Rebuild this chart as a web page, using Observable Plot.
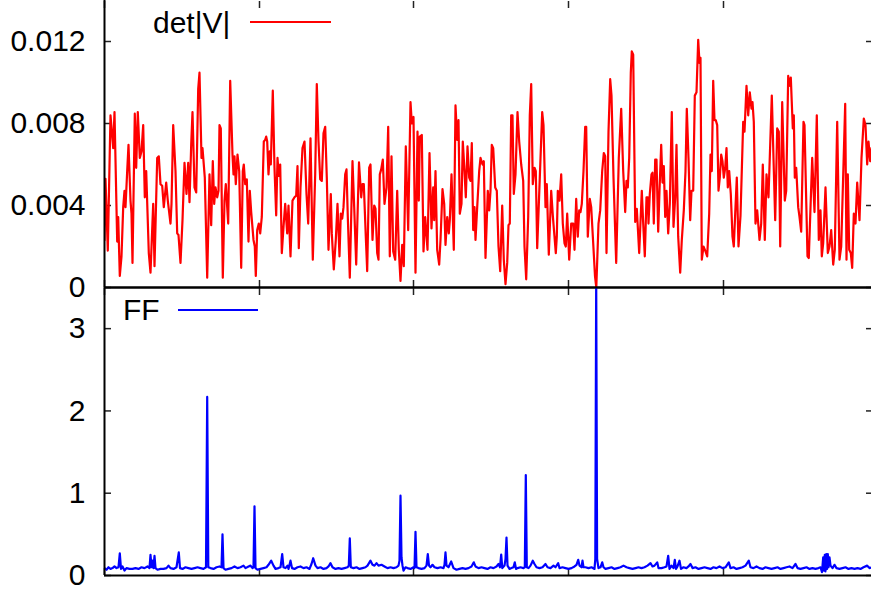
<!DOCTYPE html>
<html><head><meta charset="utf-8">
<script src="https://cdn.jsdelivr.net/npm/d3@7"></script>
<script src="https://cdn.jsdelivr.net/npm/@observablehq/plot@0.6"></script>
<style>
html,body{margin:0;padding:0;background:#fff;overflow:hidden;}
#wrap{position:relative;width:871px;height:592px;overflow:hidden;background:#fff;}
#wrap svg{position:absolute;left:0;overflow:visible;max-width:none !important;background:transparent !important;}
</style></head><body><div id="wrap"></div>
<script>
// det|V| series: [x position, value in units of 1e-3]
const detPoints = [
[0,2.3],[1,5.3],[3.3,1.8],[6,8.4],[8.7,6.8],[10,8.56],[12.7,2.24],[13.7,3.44],[15.3,0.56],[17,1.52],[18.7,3.92],[20,4.72],[21,3.92],[22.7,5.68],[24,6.96],[26,4.24],[27,3.6],[28,1.2],[30.3,8.48],[31.7,5.84],[33.3,8.56],[35.3,6.32],[37,6.64],[38.7,7.92],[40.3,4.4],[41.7,5.68],[44.3,1.68],[46,0.72],[48.7,4.08],[50,1.04],[52.7,6.32],[54.3,6.4],[56,5.04],[57.7,4.96],[59.3,3.92],[61.7,5.12],[63.3,4.24],[66,3.12],[67,4.08],[68.7,7.92],[71,5.68],[72.7,2.64],[74,2.56],[76,1.2],[78,3.28],[80,6.08],[82,4.56],[83.7,6.08],[85,4.16],[86.7,6.96],[88,8.56],[90,4.88],[91.7,4.64],[93.7,9.68],[95,10.48],[97,6.32],[98,6.8],[100.3,5.36],[102.7,0.48],[105,5.52],[106.7,3.04],[108.3,6.16],[109.7,4.08],[111,4.88],[112.7,4.4],[114,4.72],[115,7.92],[116.3,7.76],[118.3,0.48],[120,4.24],[121.3,5.04],[123.7,3.12],
[125.7,10.08],[128,6.48],[129,5.52],[130,6.4],[131.3,5.04],[133,6.48],[134.7,5.68],[136.7,0.96],[138.3,5.68],[139.3,6.0],[140.7,5.04],[142.3,5.28],[144,2.24],[145.3,4.72],[146.7,3.68],[149,2.32],[150.3,2.0],[151.3,0.56],[152.7,2.8],[154.3,3.12],[155.7,2.64],[157.3,3.44],[159.3,7.12],[160.7,7.2],[161.7,7.36],[162.7,7.12],[164,5.52],[165.3,6.64],[166.3,6.0],[168.3,9.6],[170,5.84],[171.7,3.52],[173,6.32],[174.3,5.44],[175.7,6.0],[177.3,1.68],[179,2.96],[180.7,4.08],[182.7,2.64],[184,4.0],[186,1.52],[188,4.24],[190,4.4],[191.7,4.48],[193,5.92],[194.3,1.92],[196,4.88],[198,6.8],[200,7.12],[202,4.56],[203.7,3.12],[206,7.28],[208.3,1.36],[210.7,5.52],[212.3,9.92],[214,7.12],[215.7,5.28],[217.3,5.2],[219,7.52],[220.7,7.84],[222.3,5.36],[224,1.84],[226.3,4.56],[227.3,2.64],[229.3,0.88],[231.3,2.32],[233,4.08],[235,1.52],[236.3,3.6],[237.7,3.36],[239,3.92],[240.7,5.52],[242,5.76],[243.3,3.44],[245.3,0.48],[248,6.16],[249.7,3.92],[251.7,1.12],
[254.5,6.1],[256.7,4.4],[258,5.04],[259.3,5.04],[261.3,2.48],[262.7,0.8],[264.7,5.84],[266,6.0],[268,2.32],[269.7,4.0],[271,3.84],[272.7,1.68],[274,1.36],[275.3,5.52],[276.7,5.76],[278.3,6.24],[280,4.08],[282,4.88],[283.7,7.84],[285.3,1.52],[287,6.4],[288.7,1.76],[290.7,1.36],[292.7,4.72],[294.3,1.84],[296,0.32],[297.7,2.08],[299.3,1.04],[301.3,6.88],[303.7,2.8],[306,9.04],[307.3,8.0],[309,8.32],[311,0.72],[313,7.6],[314.3,4.24],[315.3,7.36],[317.3,7.44],[319,1.76],[320.7,3.44],[323,1.84],[325,6.56],[327,2.88],[328.7,4.88],[329.7,3.28],[331,5.68],[332.7,1.84],[334.7,1.12],[336,2.32],[338,4.8],[339.7,4.08],[341,2.08],[342.7,3.44],[344.3,2.64],[345.3,3.28],[347,5.52],[349.3,1.84],[351,8.88],[352.7,7.2],[354,8.16],[355.3,3.6],[357,4.08],[358.3,7.12],[360,5.68],[361.3,4.4],[363,6.88],[364.7,5.36],[366,5.2],[367.3,7.04],[368.7,2.8],[370,3.92],[371,2.32],[372.7,3.92],[374.7,5.68],[376,6.32],[378,6.0],[379.3,6.16],[381,1.44],[383.3,4.72],
[384.7,3.76],[386,4.72],[387.3,6.96],[388.7,6.8],[390.7,4.88],[392.3,4.72],[394,2.0],[395.7,0.8],[397.7,4.0],[399.3,1.36],[401,0.16],[402.7,1.2],[404,3.04],[405.3,3.12],[406.7,8.4],[408,8.4],[409.3,4.56],[411,5.52],[413,8.56],[414.7,7.12],[416.7,6.0],[418.7,5.2],[420,2.0],[421.7,0.4],[423.7,3.44],[425.3,8.4],[426.7,9.92],[428.3,5.04],[430,5.84],[431.3,5.68],[432.7,1.92],[435.3,5.36],[437.7,8.56],[439,7.92],[441,3.92],[442.3,5.04],[444.3,1.6],[446.7,4.72],[448.3,3.52],[450,2.48],[451.3,1.68],[452.3,2.48],[453.3,4.72],[455,4.24],[456.7,5.52],[458.3,3.12],[460,2.16],[461.3,2.0],[462.7,3.6],[464.7,1.36],[466.7,3.12],[468.7,3.12],[470,1.84],[471.7,4.32],[473.3,2.48],[474.7,3.76],[476,3.68],[477.3,4.08],[479,5.68],[480.7,7.84],[481.7,7.84],[483.3,2.48],[485.3,4.32],[486.7,3.92],[488.7,2.16],[490.5,0.56],[491.8,0.0],[494,3.12],[495.7,3.76],[497.7,5.68],[499.3,6.56],[500.7,6.4],[502,1.68],[504,7.6],[505.7,10.16],[507,9.36],[509,5.36],[511.7,1.2],
[514.3,6.32],[516.7,8.72],[518.7,5.68],[520.7,3.68],[522,5.2],[523.3,4.88],[524.7,6.32],[526.3,10.48],[527.3,11.52],[528.7,11.36],[530.7,3.2],[532.3,3.84],[534.7,1.68],[537.3,4.72],[538.7,3.12],[540.3,1.52],[542,4.4],[543.3,4.4],[544,3.12],[545.3,4.56],[547,5.52],[548,5.6],[549.3,3.12],[550.7,6.24],[552,6.24],[553.7,2.72],[555,4.72],[556.7,6.96],[558,5.12],[559.3,5.92],[560.7,3.44],[562,4.72],[563.7,2.64],[565.3,4.08],[567.3,8.56],[569,2.96],[570.7,4.4],[572,6.96],[573.7,2.48],[575.7,0.72],[577.3,2.32],[579.3,3.76],[581,5.68],[582.3,8.72],[584,6.32],[585.7,3.28],[587,4.72],[588.7,4.72],[590.3,9.36],[592,9.52],[593.7,12.08],[595,10.96],[596,11.2],[597.3,1.36],[599,2.0],[601,1.76],[602.7,1.52],[604.7,3.6],[606,6.48],[607.3,5.68],[608.7,10.08],[610,8.16],[611.3,8.16],[612.7,7.92],[614,4.72],[615.3,5.36],[616.7,6.48],[618,6.16],[619.3,5.36],[620.7,5.84],[622,6.8],[623.3,4.88],[624.7,5.68],[626.3,4.56],[628,2.48],[629.3,2.0],[630.7,3.6],[632.3,5.36],[634,2.0],[636,3.5],
[638.7,8.08],[640,7.6],[642,9.84],[643.7,8.4],[645.3,9.52],[647,8.72],[648,9.04],[649.3,8.08],[651,3.12],[652.7,3.76],[655,2.32],[656.7,3.12],[658.3,6.0],[660.3,2.32],[662,5.52],[664,4.4],[667.3,9.36],[670.7,3.28],[672.7,7.76],[674.3,7.6],[675.7,2.0],[677.7,9.04],[680.3,4.24],[681.7,4.72],[683.7,10.32],[685,9.84],[686.3,10.24],[688.3,7.76],[689.3,8.4],[690.3,5.36],[691.7,5.84],[693.7,3.92],[695,3.44],[696.7,2.72],[699,8.08],[700,7.92],[703,1.52],[704.3,1.44],[707.7,6.32],[710,3.68],[712.3,8.4],[714.3,2.32],[716,3.76],[717.3,1.52],[718.7,2.16],[721,4.88],[723.3,1.68],[725,2.0],[726.7,2.8],[728.7,1.12],[730.3,1.84],[732.7,8.08],[735,1.36],[736.7,2.0],[740.7,8.96],[742,1.36],[743.3,5.52],[744.7,1.84],[746.3,1.68],[747.7,0.96],[749.3,3.6],[751,3.12],[752.7,5.12],[755,3.28],[757,6.32],[759.3,8.24],[761,7.92],[762.7,6.0],[764,7.12],[765.7,6.16],[767,6.8],[768,5.6]
];

// FF series: [x position, value]
const ffPoints = [
[0,0.09],[2,0.07],[4,0.10],[6,0.08],[8,0.09],[10,0.11],[12,0.09],[14,0.10],[15.3,0.27],[16.5,0.08],[18,0.11],[20,0.06],[22,0.09],[25,0.08],[28,0.08],[31,0.09],[34,0.08],[37,0.10],[40,0.09],[43,0.11],[45,0.09],[46,0.25],[47,0.10],[48,0.18],[49,0.09],[50,0.24],[51,0.09],[53,0.07],[56,0.08],[59,0.08],[62,0.09],[64,0.12],[66,0.09],[69,0.08],[72,0.10],[74.3,0.28],[75.5,0.09],[78,0.08],[81,0.10],[84,0.09],[87,0.08],[90,0.09],[93,0.10],[96,0.09],[99,0.08],[101.5,0.10],[102.7,2.17],[103.8,0.10],[106,0.09],[109,0.08],[112,0.10],[115,0.11],[117,0.10],[118,0.50],[119,0.09],[121,0.07],[124,0.08],[127,0.09],[130,0.11],[133,0.09],[136,0.10],[139,0.12],[141,0.09],[144,0.11],[146,0.12],[148,0.09],[149,0.10],[150,0.84],[151,0.09],[153,0.07],[156,0.08],[159,0.09],[162,0.10],[164,0.13],[166.7,0.18],[169,0.12],[171,0.08],[174,0.09],[176,0.10],[177.7,0.26],[179,0.10],[181,0.09],[183,0.12],[184,0.08],[186,0.18],[187.5,0.09],[190,0.08],[193,0.10],[196,0.11],[199,0.09],[202,0.10],[205,0.08],[207,0.14],[208.7,0.21],[211,0.12],[213,0.09],[216,0.10],[219,0.08],[222,0.09],[224,0.11],[226,0.15],[228,0.10],[231,0.08],[234,0.09],[237,0.08],[240,0.09],[243,0.10],[244.3,0.12],[245.3,0.45],[246.3,0.10],[249,0.09],[252,0.10],[255,0.08],[258,0.09],[261,0.10],[263,0.12],[266,0.18],[268,0.13],[270,0.12],[272,0.15],[274,0.12],[277,0.13],[280,0.11],[283,0.09],[286,0.10],[289,0.09],[292,0.10],[294,0.12],[295,0.18],[296,0.97],[297,0.22],[298,0.12],[299,0.06],[301,0.10],[303,0.09],[306,0.08],[309,0.10],[310,0.09],[311,0.53],[312,0.10],[314,0.09],[317,0.08],[320,0.09],[322,0.12],[323.3,0.26],[324.5,0.12],[326,0.10],[328,0.13],[330,0.10],[333,0.09],[336,0.10],[339,0.09],[340,0.13],[341,0.28],[342,0.12],[344,0.10],[346.7,0.17],[349,0.09],[352,0.07],[355,0.08],[358,0.09],[361,0.08],[364,0.09],[367,0.11],[369.3,0.16],[371,0.11],[374,0.09],[377,0.10],[380,0.09],[383,0.08],
[386,0.10],[389,0.09],[392,0.11],[394,0.14],[395.5,0.10],[396.7,0.255],[397.8,0.09],[400,0.12],[401,0.20],[402,0.46],[403,0.12],[405,0.08],[407,0.09],[409,0.10],[410.3,0.16],[411.5,0.08],[413,0.09],[416,0.10],[419,0.09],[420.3,0.10],[421.3,1.22],[422.3,0.10],[424,0.09],[426,0.12],[428.3,0.18],[430,0.14],[432,0.10],[435,0.09],[438,0.10],[441,0.14],[443,0.10],[446,0.09],[449,0.12],[451,0.10],[453.7,0.15],[455,0.09],[458,0.10],[461,0.09],[464,0.08],[467,0.09],[470,0.11],[472,0.13],[473.7,0.19],[475,0.12],[477,0.10],[478,0.18],[479,0.10],[481,0.10],[484,0.09],[487,0.10],[490,0.08],[490.8,0.20],[491.7,3.6],[492.6,0.20],[494,0.09],[496,0.10],[497.7,0.16],[499,0.10],[501,0.08],[504,0.09],[507,0.10],[510,0.08],[513,0.09],[516,0.10],[519,0.12],[522,0.10],[525,0.09],[528,0.08],[531,0.09],[534,0.10],[537,0.09],[540,0.10],[543,0.12],[546,0.15],[548,0.11],[550,0.12],[552.7,0.16],[554,0.09],[557,0.09],[560,0.10],[562,0.11],[563.7,0.24],[565,0.08],[567,0.12],[569,0.09],[570.3,0.19],[571.5,0.08],[573,0.11],[575,0.18],[576.5,0.08],[579,0.10],[582,0.09],[584,0.11],[586,0.14],[588,0.09],[591,0.10],[594,0.08],[597,0.09],[600,0.10],[603,0.09],[606,0.08],[609,0.10],[612,0.09],[615,0.11],[618,0.09],[621,0.10],[624.3,0.16],[626,0.09],[629,0.10],[632,0.08],[635,0.09],[638,0.10],[641,0.12],[644.3,0.18],[646,0.10],[649,0.09],[652,0.11],[655,0.09],[658,0.08],[661,0.10],[664,0.09],[667,0.08],[670,0.09],[673,0.10],[676,0.08],[679,0.09],[682,0.10],[685,0.11],[688,0.09],[691,0.14],[693,0.09],[696,0.08],[699,0.09],[702,0.10],[705,0.08],[708,0.09],[711,0.08],[714,0.09],[716,0.10],[717.5,0.04],[718.7,0.22],[719.5,0.06],[720.3,0.25],[721,0.05],[721.8,0.26],[722.6,0.08],[723.3,0.26],[724,0.10],[725,0.22],[726,0.12],[728,0.09],[730,0.13],[732,0.09],[735,0.08],[738,0.09],[741,0.10],[744,0.08],[747,0.09],[750,0.08],[753,0.09],[756,0.08],[759,0.10],[762.7,0.12],[765,0.09],[768,0.10]
];

const xDomain = [0, 768];
const xTicks = [0, 155, 309, 464, 619];
const detDomain = [0, 0.014];
const detTicks = [0, 0.004, 0.008, 0.012];
const ffDomain = [0, 3.5];
const ffTicks = [0, 1, 2, 3];
const detLabel = "det|V|";
const ffLabel = "FF";

const detData = detPoints.map(([x, v]) => ({x, y: v / 1000}));
const ffData = ffPoints.map(([x, v]) => ({x, y: v}));

const FONT = "'Liberation Sans', Arial, Helvetica, sans-serif";
const FS = 30;
const common = {
  width: 873, marginLeft: 104, marginRight: 1,
  x: {domain: xDomain, axis: null},
  style: {fontFamily: FONT, fontSize: FS + "px", background: "transparent", overflow: "visible"}
};
const tickStyle = {stroke: "#222", strokeWidth: 1.5};
function axes(yTicks) {
  return [
    Plot.axisY(yTicks, {anchor: "left", tickSize: -7, tickPadding: 26, fontSize: FS, label: null, ...tickStyle, fill: "black",
      tickFormat: d => String(d)}),
    Plot.axisY(yTicks, {anchor: "right", tickSize: -7, label: null, ...tickStyle, tickFormat: () => ""}),
    Plot.axisX(xTicks, {anchor: "top", tickSize: -7, label: null, ...tickStyle, tickFormat: () => ""}),
    Plot.axisX(xTicks, {anchor: "bottom", tickSize: -7, label: null, ...tickStyle, tickFormat: () => ""})
  ];
}

const topChart = Plot.plot({
  ...common, height: 288, marginTop: 0, marginBottom: 1,
  y: {domain: detDomain, axis: null},
  marks: [
    ...axes(detTicks),
    Plot.line(detData, {x: "x", y: "y", stroke: "#ff0000", strokeWidth: 2.2, clip: true}),
    Plot.ruleX([0], {stroke: "black", strokeWidth: 2}),
    Plot.ruleY([0], {stroke: "black", strokeWidth: 2})
  ]
});
const bottomChart = Plot.plot({
  ...common, height: 305, marginTop: 0, marginBottom: 17,
  y: {domain: ffDomain, axis: null},
  marks: [
    ...axes(ffTicks),
    Plot.line(ffData, {x: "x", y: "y", stroke: "#0000ff", strokeWidth: 2.2, clip: true}),
    Plot.ruleX([0], {stroke: "black", strokeWidth: 2}),
    Plot.ruleY([0, ffDomain[1]], {stroke: "black", strokeWidth: 2})
  ]
});
topChart.style.top = "0px";
bottomChart.style.top = "287px";
const wrap = document.getElementById("wrap");
wrap.appendChild(topChart);
wrap.appendChild(bottomChart);

// legends
const ns = "http://www.w3.org/2000/svg";
const leg = document.createElementNS(ns, "svg");
leg.setAttribute("width", 871); leg.setAttribute("height", 592);
leg.style.top = "0px";
function legendEntry(label, color, tx, ty, lx1, lx2, ly) {
  const t = document.createElementNS(ns, "text");
  t.setAttribute("x", tx); t.setAttribute("y", ty);
  t.setAttribute("font-family", FONT); t.setAttribute("font-size", FS);
  t.textContent = label; leg.appendChild(t);
  const l = document.createElementNS(ns, "line");
  l.setAttribute("x1", lx1); l.setAttribute("x2", lx2); l.setAttribute("y1", ly); l.setAttribute("y2", ly);
  l.setAttribute("stroke", color); l.setAttribute("stroke-width", 2); leg.appendChild(l);
}
legendEntry(detLabel, "#ff0000", 153, 33, 250, 331, 22);
legendEntry(ffLabel, "#0000ff", 123, 320, 178, 258, 310);
wrap.appendChild(leg);
</script></body></html>
